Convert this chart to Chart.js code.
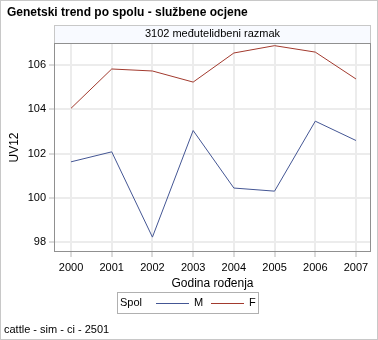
<!DOCTYPE html>
<html>
<head>
<meta charset="utf-8">
<script src="https://cdn.jsdelivr.net/npm/chart.js@4.4.1/dist/chart.umd.min.js"></script>
<style>
  html, body { margin: 0; padding: 0; background: #fff; }
  #wrap { width: 378px; height: 340px; }
</style>
</head>
<body>
<div id="wrap"><canvas id="trend" width="378" height="340"></canvas></div>
<script>
// genetski trend po spolu - UV12 po godini rođenja

const godine = [2000, 2001, 2002, 2003, 2004, 2005, 2006, 2007];
const uvMuski = [101.63, 102.08, 98.24, 103.04, 100.45, 100.31, 103.46, 102.59];
const uvZenski = [104.04, 105.81, 105.72, 105.22, 106.53, 106.86, 106.57, 105.36];
const yTicks = [98, 100, 102, 104, 106];

const FONT = "'Liberation Sans', Arial, sans-serif";
const PLAVA = "#445694";
const CRVENA = "#a23a2e";

function toPoints(vals) {
    return godine.map((g, i) => ({ x: g, y: vals[i] }));
}

// naslov, traka, okvir, legenda i fusnota
const okvirPlugin = {
    id: "okvir",
    afterDraw(chart) {
        const ctx = chart.ctx;
        const a = chart.chartArea;
        ctx.save();

        // vanjski okvir
        ctx.strokeStyle = "#c8c8c8";
        ctx.lineWidth = 1;
        ctx.strokeRect(0.5, 0.5, chart.width - 1, chart.height - 1);

        // naslov
        ctx.fillStyle = "#000";
        ctx.font = "bold 12px " + FONT;
        ctx.textBaseline = "middle";
        ctx.textAlign = "left";
        ctx.fillText("Genetski trend po spolu - službene ocjene", 7, 13);

        // traka iznad grafa
        ctx.fillStyle = "#f8faff";
        ctx.fillRect(a.left, 25, a.right - a.left, a.top - 25);
        ctx.strokeStyle = "#c8c8c8";
        ctx.strokeRect(a.left + 0.5, 25.5, a.right - a.left - 1, a.top - 25);
        ctx.fillStyle = "#000";
        ctx.font = "11px " + FONT;
        ctx.textAlign = "center";
        ctx.fillText("3102 međutelidbeni razmak", (a.left + a.right) / 2, 34);

        // okvir grafa
        ctx.strokeStyle = "#909090";
        ctx.strokeRect(a.left + 0.5, a.top + 0.5, a.right - a.left - 1, a.bottom - a.top - 1);

        // legenda
        ctx.strokeStyle = "#b0b0b0";
        ctx.strokeRect(117.5, 292.5, 141, 21);
        ctx.fillStyle = "#000";
        ctx.textAlign = "left";
        ctx.fillText("Spol", 120, 303);
        const pocetci = [156, 211];
        chart.data.datasets.forEach((ds, i) => {
            const x = pocetci[i];
            ctx.strokeStyle = ds.borderColor;
            ctx.beginPath();
            ctx.moveTo(x, 303.5);
            ctx.lineTo(x + 33, 303.5);
            ctx.stroke();
            ctx.fillStyle = "#000";
            ctx.fillText(ds.label, x + 38, 303);
        });

        // fusnota
        ctx.fillText("cattle - sim - ci - 2501", 4, 330);
        ctx.restore();
    }
};

new Chart(document.getElementById("trend"), {
    type: "line",
    data: {
        datasets: [
            {
                label: "M",
                data: toPoints(uvMuski),
                borderColor: PLAVA,
                borderWidth: 1,
                pointRadius: 0,
                tension: 0
            },
            {
                label: "F",
                data: toPoints(uvZenski),
                borderColor: CRVENA,
                borderWidth: 1,
                pointRadius: 0,
                tension: 0
            }
        ]
    },
    options: {
        responsive: false,
        animation: false,
        layout: { padding: { top: 43, right: 7, bottom: 49, left: 0 } },
        plugins: {
            legend: { display: false },
            tooltip: { enabled: false }
        },
        scales: {
            x: {
                type: "linear",
                min: 1999.582,
                max: 2007.369,
                afterBuildTicks: s => { s.ticks = godine.map(v => ({ value: v })); },
                afterFit: s => { s.height = 39; },
                grid: {
                    color: "#ececec",
                    lineWidth: 2,
                    tickColor: "#b8b8b8",
                    tickWidth: 1,
                    tickLength: 5
                },
                border: { display: false },
                ticks: {
                    color: "#000",
                    padding: 4,
                    maxRotation: 0,
                    font: { family: FONT, size: 11 },
                    callback: v => String(v)
                },
                title: {
                    display: true,
                    text: "Godina rođenja",
                    color: "#000",
                    padding: { top: 0, bottom: 0 },
                    font: { family: FONT, size: 12 }
                }
            },
            y: {
                min: 97.57,
                max: 106.98,
                afterBuildTicks: s => { s.ticks = yTicks.map(v => ({ value: v })); },
                afterFit: s => { s.width = 54; },
                grid: {
                    color: "#ececec",
                    lineWidth: 2,
                    tickColor: "#b8b8b8",
                    tickWidth: 1,
                    tickLength: 5
                },
                border: { display: false },
                ticks: {
                    color: "#000",
                    padding: 3,
                    font: { family: FONT, size: 11 },
                    callback: v => String(v)
                },
                title: {
                    display: true,
                    text: "UV12",
                    color: "#000",
                    padding: { top: 7, bottom: 0 },
                    font: { family: FONT, size: 12 }
                }
            }
        }
    },
    plugins: [okvirPlugin]
});
</script>
</body>
</html>
